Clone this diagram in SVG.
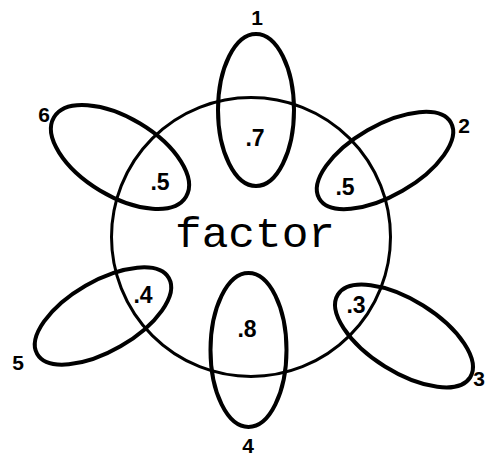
<svg xmlns="http://www.w3.org/2000/svg" width="485" height="459" viewBox="0 0 485 459">
<style>
.ring{fill:none;stroke:#000;stroke-width:4}
.main{fill:none;stroke:#000;stroke-width:3}
.num{font-family:"Liberation Sans",Arial,sans-serif;font-weight:bold;font-size:21px;fill:#000;text-anchor:middle}
.coef{font-family:"Liberation Sans",Arial,sans-serif;font-weight:bold;font-size:23px;fill:#000;text-anchor:middle}
.fac{font-family:"Liberation Mono","Courier New",monospace;font-size:43px;fill:#000;text-anchor:middle}
</style>
<rect width="485" height="459" fill="#fff"/>
<g id="factor">
<circle class="main" cx="251" cy="237" r="139.5"/>
<text class="fac" x="255" y="247" textLength="160" lengthAdjust="spacingAndGlyphs">factor</text>
</g>
<g id="v1">
<ellipse class="ring" cx="256" cy="110" rx="38" ry="76"/>
<text class="num" x="257" y="25">1</text>
<text class="coef" x="255" y="146">.7</text>
</g>
<g id="v2">
<ellipse class="ring" cx="0" cy="0" rx="76" ry="35" transform="translate(385,160.5) rotate(-30)"/>
<text class="num" x="464" y="133">2</text>
<text class="coef" x="345" y="195">.5</text>
</g>
<g id="v3">
<ellipse class="ring" cx="0" cy="0" rx="78" ry="36" transform="translate(404,336) rotate(32)"/>
<text class="num" x="485" y="386" style="text-anchor:end">3</text>
<text class="coef" x="356" y="313">.3</text>
</g>
<g id="v4">
<ellipse class="ring" cx="248.5" cy="350" rx="38" ry="77"/>
<text class="num" x="248" y="453">4</text>
<text class="coef" x="247" y="337">.8</text>
</g>
<g id="v5">
<ellipse class="ring" cx="0" cy="0" rx="76" ry="35" transform="translate(103,316) rotate(-30)"/>
<text class="num" x="18" y="370">5</text>
<text class="coef" x="143" y="303">.4</text>
</g>
<g id="v6">
<ellipse class="ring" cx="0" cy="0" rx="77" ry="39" transform="translate(120,157) rotate(31)"/>
<text class="num" x="44" y="122">6</text>
<text class="coef" x="160" y="190">.5</text>
</g>
</svg>
